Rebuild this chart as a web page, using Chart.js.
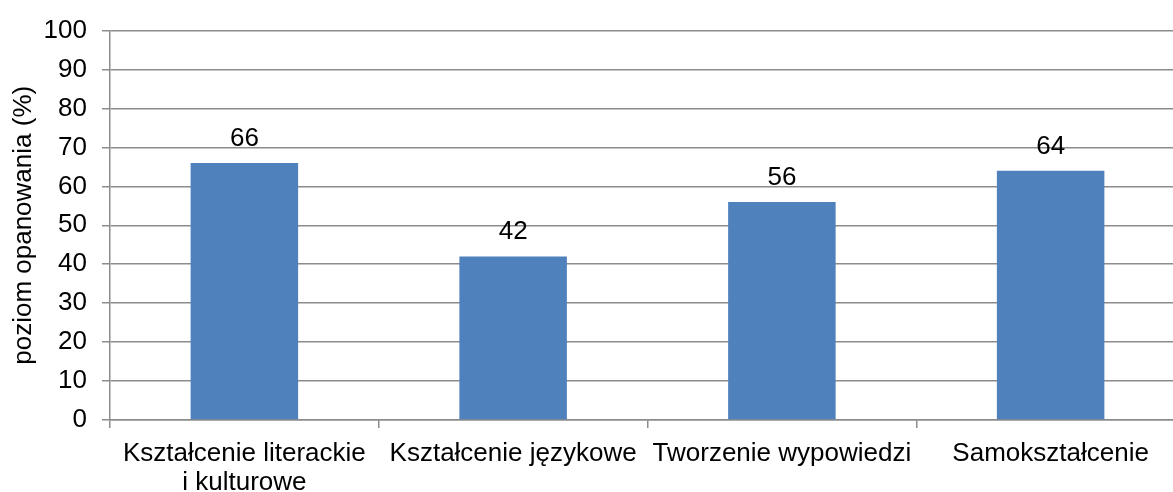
<!DOCTYPE html>
<html>
<head>
<meta charset="utf-8">
<script src="https://cdn.jsdelivr.net/npm/chart.js@4/dist/chart.umd.min.js"></script>
<style>
html,body{margin:0;padding:0;background:#fff;overflow:hidden;width:1173px;height:492px;}
canvas{display:block;}
</style>
</head>
<body>
<canvas id="c" width="1186" height="492"></canvas>
<script>
const categories = [["Kształcenie literackie","i kulturowe"], "Kształcenie językowe", "Tworzenie wypowiedzi", "Samokształcenie"];
const values = [66, 42, 56, 64];
const yTicks = [0,10,20,30,40,50,60,70,80,90,100];
const yTitle = "poziom opanowania (%)";

const FONT = "'Liberation Sans', Arial, sans-serif";
const FS = 26;

const valueLabels = {
  id: 'valueLabels',
  afterDatasetsDraw(chart) {
    const ctx = chart.ctx;
    const meta = chart.getDatasetMeta(0);
    ctx.save();
    ctx.font = FS + "px " + FONT;
    ctx.fillStyle = "#000";
    ctx.textAlign = "center";
    ctx.textBaseline = "alphabetic";
    meta.data.forEach((bar, i) => {
      ctx.fillText(String(values[i]), bar.x, bar.y - 17);
    });
    ctx.restore();
  }
};

new Chart(document.getElementById('c'), {
  type: 'bar',
  data: {
    labels: categories,
    datasets: [{
      data: values,
      backgroundColor: '#4F81BD',
      borderWidth: 0,
      categoryPercentage: 1.0,
      barPercentage: 0.4
    }]
  },
  options: {
    responsive: false,
    animation: false,
    devicePixelRatio: 1,
    layout: { padding: { top: 0, right: 1, bottom: 0, left: 0 } },
    plugins: { legend: { display: false }, tooltip: { enabled: false } },
    scales: {
      x: {
        grid: { drawOnChartArea: false, drawTicks: true, tickLength: 8, color: '#8c8c8c', lineWidth: 1.5, offset: true },
        border: { color: '#8c8c8c', width: 1.5 },
        ticks: { color: '#000', font: { family: FONT, size: FS, lineHeight: 1.1 }, padding: 12, maxRotation: 0, autoSkip: false },
        afterFit(scale) { scale.height = 72; }
      },
      y: {
        min: 0, max: 100,
        afterBuildTicks(scale) { scale.ticks = yTicks.map(v => ({ value: v })); },
        grid: { color: '#8c8c8c', lineWidth: 1.5, tickLength: 8 },
        border: { color: '#8c8c8c', width: 1.5 },
        ticks: { color: '#000', font: { family: FONT, size: FS }, padding: 15 },
        title: { display: true, text: yTitle, color: '#000', font: { family: FONT, size: FS }, padding: { top: 8, bottom: 0 } },
        afterFit(scale) { scale.width = 110; }
      }
    }
  },
  plugins: [valueLabels]
});
</script>
</body>
</html>
